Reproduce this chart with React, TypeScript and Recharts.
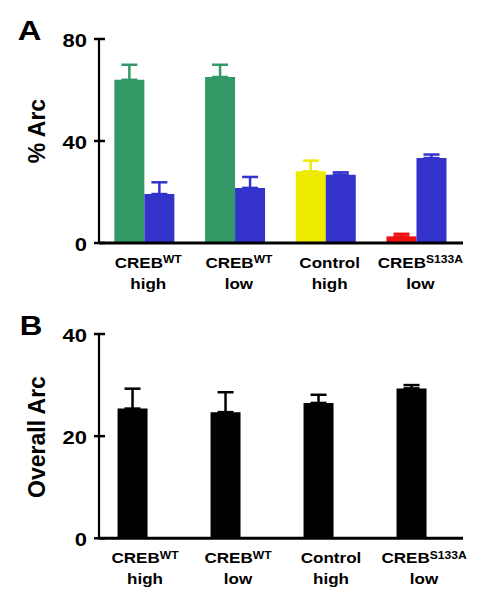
import React from 'react';
import { BarChart, Bar, XAxis, YAxis, ErrorBar } from 'recharts';

const FONT = '"Liberation Sans", Arial, Helvetica, sans-serif';

const GREEN = '#339966';
const BLUE = '#3333cc';
const YELLOW = '#eeea00';
const RED = '#ee1111';

// x categories (two text lines, first one may carry a superscript)
const groupNames = ['CREB', 'CREB', 'Control', 'CREB'];
const groupSups = ['WT', 'WT', '', 'S133A'];
const groupLevels = ['high', 'low', 'high', 'low'];

// panel A – first bar of each pair, its colour depends on the group
const firstValues = [64.0, 65.1, 28.1, 2.6];
const firstErrors = [5.9, 4.8, 4.2, 1.0];
const firstKinds = ['green', 'green', 'yellow', 'red'];
// panel A – second bar (blue)
const blueValues = [19.2, 21.6, 26.8, 33.3];
const blueErrors = [4.6, 4.3, 0.9, 1.4];
const arcTicks = [0, 40, 80];

// panel B
const overallValues = [25.4, 24.7, 26.5, 29.35];
const overallErrors = [3.9, 3.9, 1.6, 0.65];
const overallTicks = [0, 20, 40];

const xTicks = groupNames.map((_, i) => i);

const dataA = groupNames.map((name, i) => {
  const row: any = { idx: i, name, blue: blueValues[i], blueErr: [0, blueErrors[i]] };
  ['green', 'yellow', 'red'].forEach((k) => {
    row[k] = firstKinds[i] === k ? firstValues[i] : null;
    row[k + 'Err'] = firstKinds[i] === k ? [0, firstErrors[i]] : null;
  });
  return row;
});

const dataB = groupNames.map((name, i) => ({
  idx: i,
  name,
  overall: overallValues[i],
  overallErr: [0, overallErrors[i]],
}));

const YTick = ({ x, y, payload }: any) => (
  <g>
    <line x1={x - 5} x2={x + 6} y1={y} y2={y} stroke="#000" strokeWidth={2.5} />
    <text
      transform={`translate(${x - 12},${y + 7.5}) scale(1.22,1)`}
      textAnchor="end"
      fontFamily={FONT}
      fontWeight="bold"
      fontSize={18}
      fill="#000"
    >
      {payload.value}
    </text>
  </g>
);

const XTick = ({ x, y, payload, dx }: any) => {
  const i = payload.value;
  const style = { fontFamily: FONT, fontWeight: 'bold' as const, fill: '#000' };
  return (
    <g transform={`translate(${x + dx},${y})`}>
      <text transform="scale(1.1,1)" y={25} textAnchor="middle" fontSize={15.5} {...style}>
        {groupNames[i]}
        {groupSups[i] ? (
          <tspan dy={-4.5} fontSize={11}>
            {groupSups[i]}
          </tspan>
        ) : null}
      </text>
      <text transform="scale(1.1,1)" y={46} textAnchor="middle" fontSize={15.5} {...style}>
        {groupLevels[i]}
      </text>
    </g>
  );
};

const errorProps = { direction: 'y' as const, width: 8, strokeWidth: 2.5 };

export default function App() {
  return (
    <div style={{ position: 'absolute', left: 0, top: 0, width: 490, height: 599, background: '#fff' }}>
      <div style={{ position: 'absolute', left: 0, top: 0 }}>
        <BarChart width={490} height={300} data={dataA} barGap={0} margin={{ top: 39, right: 27, left: 9, bottom: 7 }}>
          <XAxis
            dataKey="idx"
            type="number"
            domain={[-0.504, 3.509]}
            allowDataOverflow
            ticks={xTicks}
            interval={0}
            height={50}
            tickLine={false}
            tickSize={0}
            tickMargin={0}
            axisLine={{ stroke: '#000', strokeWidth: 3 }}
            tick={(p: any) => <XTick {...p} dx={3.5} />}
          />
          <YAxis
            type="number"
            domain={[0, 80]}
            ticks={arcTicks}
            width={90}
            tickLine={false}
            tickSize={0}
            tickMargin={0}
            axisLine={{ stroke: '#000', strokeWidth: 2.2 }}
            tick={(p: any) => <YTick {...p} />}
          />
          <Bar dataKey="green" stackId="first" fill={GREEN} barSize={30} isAnimationActive={false}>
            <ErrorBar dataKey="greenErr" stroke={GREEN} {...errorProps} />
          </Bar>
          <Bar dataKey="yellow" stackId="first" fill={YELLOW} barSize={30} isAnimationActive={false}>
            <ErrorBar dataKey="yellowErr" stroke={YELLOW} {...errorProps} />
          </Bar>
          <Bar dataKey="red" stackId="first" fill={RED} barSize={30} isAnimationActive={false}>
            <ErrorBar dataKey="redErr" stroke={RED} {...errorProps} />
          </Bar>
          <Bar dataKey="blue" fill={BLUE} barSize={30} isAnimationActive={false}>
            <ErrorBar dataKey="blueErr" stroke={BLUE} {...errorProps} />
          </Bar>
        </BarChart>
      </div>
      <div style={{ position: 'absolute', left: 0, top: 300 }}>
        <BarChart width={490} height={299} data={dataB} margin={{ top: 34, right: 27, left: 9, bottom: 10.7 }}>
          <XAxis
            dataKey="idx"
            type="number"
            domain={[-0.366, 3.548]}
            allowDataOverflow
            ticks={xTicks}
            interval={0}
            height={50}
            tickLine={false}
            tickSize={0}
            tickMargin={0}
            axisLine={{ stroke: '#000', strokeWidth: 3 }}
            tick={(p: any) => <XTick {...p} dx={12} />}
          />
          <YAxis
            type="number"
            domain={[0, 40]}
            ticks={overallTicks}
            width={90}
            tickLine={false}
            tickSize={0}
            tickMargin={0}
            axisLine={{ stroke: '#000', strokeWidth: 2.2 }}
            tick={(p: any) => <YTick {...p} />}
          />
          <Bar dataKey="overall" fill="#000" barSize={30} isAnimationActive={false}>
            <ErrorBar dataKey="overallErr" stroke="#000" {...errorProps} />
          </Bar>
        </BarChart>
      </div>
      <svg width={490} height={599} style={{ position: 'absolute', left: 0, top: 0, pointerEvents: 'none' }}>
        <g fontFamily={FONT} fontWeight="bold" fill="#000">
          <text transform="translate(29.5,40) scale(1.17,1)" textAnchor="middle" fontSize={28}>
            A
          </text>
          <text transform="translate(31,335) scale(1.12,1)" textAnchor="middle" fontSize={28}>
            B
          </text>
          <text transform="translate(45,131) rotate(-90) scale(1,1.08)" textAnchor="middle" fontSize={23}>
            % Arc
          </text>
          <text transform="translate(45,437) rotate(-90) scale(1,1.08)" textAnchor="middle" fontSize={23}>
            Overall Arc
          </text>
        </g>
      </svg>
    </div>
  );
}
